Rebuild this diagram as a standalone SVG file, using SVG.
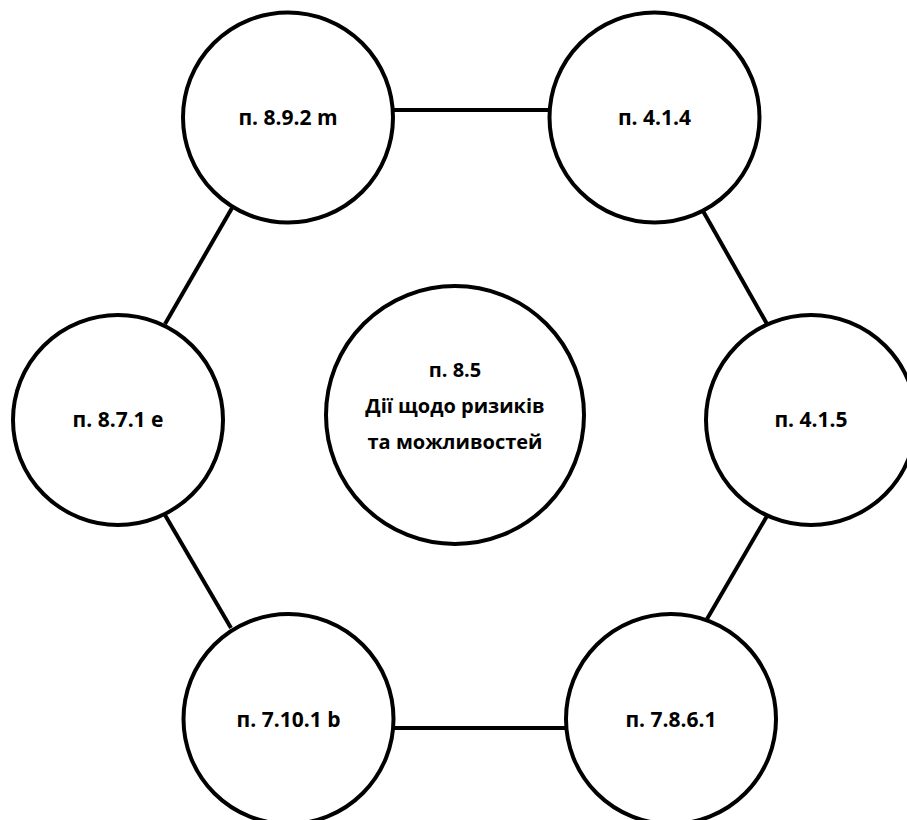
<svg xmlns="http://www.w3.org/2000/svg" width="907" height="820" viewBox="0 0 907 820">
  <style>
    .node circle { fill: #ffffff; stroke: #000000; stroke-width: 4; }
    .node text { font-family: "Open Sans", "Liberation Sans", sans-serif; font-weight: bold; font-size: 21px; fill: #000000; text-anchor: middle; }
    #node-center text { font-size: 20px; }
    .edges line { stroke: #000000; stroke-width: 4; }
  </style>
  <rect width="907" height="820" fill="#ffffff"/>

  <!-- hexagon ring connectors -->
  <g class="edges" id="connectors">
    <line x1="393" y1="110" x2="549" y2="110"/>
    <line x1="703" y1="211" x2="767" y2="324"/>
    <line x1="767" y1="516" x2="707" y2="619"/>
    <line x1="566" y1="728" x2="393" y2="728"/>
    <line x1="231" y1="628" x2="165" y2="515"/>
    <line x1="165" y1="324" x2="232" y2="208"/>
  </g>

  <g class="node" id="node-center">
    <circle cx="455" cy="415" r="129"/>
    <text x="455" y="377">п. 8.5</text>
    <text x="455" y="413">Дії щодо ризиків</text>
    <text x="455" y="449">та можливостей</text>
  </g>

  <g class="node" id="node-892m">
    <circle cx="288" cy="117.5" r="105"/>
    <text x="288" y="125">п. 8.9.2 m</text>
  </g>

  <g class="node" id="node-414">
    <circle cx="654.5" cy="117.5" r="105"/>
    <text x="654.5" y="125">п. 4.1.4</text>
  </g>

  <g class="node" id="node-871e">
    <circle cx="118" cy="420" r="105"/>
    <text x="118" y="427">п. 8.7.1 e</text>
  </g>

  <g class="node" id="node-415">
    <circle cx="811" cy="420" r="105"/>
    <text x="811" y="427">п. 4.1.5</text>
  </g>

  <g class="node" id="node-7101b">
    <circle cx="288.5" cy="719" r="105"/>
    <text x="288.5" y="727">п. 7.10.1 b</text>
  </g>

  <g class="node" id="node-7861">
    <circle cx="671" cy="719" r="105"/>
    <text x="671" y="727">п. 7.8.6.1</text>
  </g>
</svg>
